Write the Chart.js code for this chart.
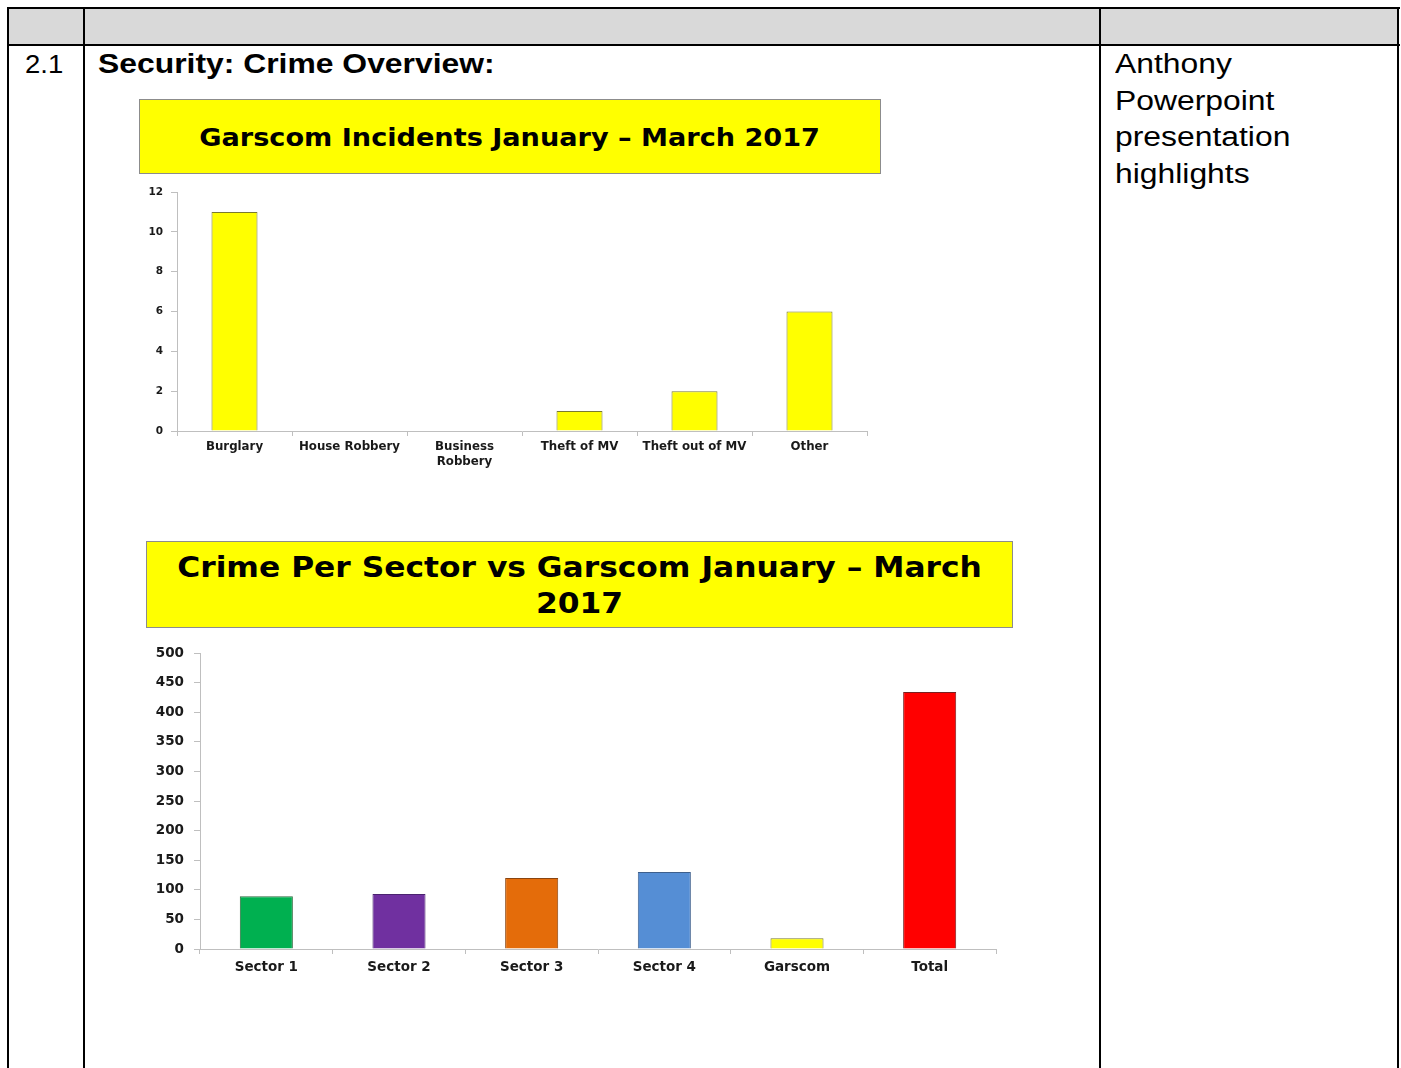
<!DOCTYPE html>
<html>
<head>
<meta charset="utf-8">
<script src="https://cdn.jsdelivr.net/npm/chart.js@4.4.0/dist/chart.umd.min.js"></script>
<style>
  body { margin: 0; background: #fff; width: 1401px; height: 1068px; overflow: hidden; position: relative; font-family: "Liberation Sans", Arial, sans-serif; }
  .line { position: absolute; background: #000; }
  .txt { position: absolute; transform-origin: left top; transform: scaleX(1.18); white-space: nowrap; color: #000; }
  .ttl { position: absolute; background: #ffff00; border: 1px solid #8c8c8c; box-sizing: border-box; display: flex; align-items: center; justify-content: center; text-align: center; font-family: "DejaVu Sans", Verdana, sans-serif; font-weight: bold; color: #000; }
  .ttl span { display: inline-block; white-space: nowrap; }
  canvas { position: absolute; }
</style>
</head>
<body>
<!-- table frame -->
<div style="position:absolute;left:8px;top:8px;width:1390px;height:37px;background:#d9d9d9"></div>
<div class="line" style="left:7px;top:7px;width:1393px;height:2px"></div>
<div class="line" style="left:7px;top:44px;width:1393px;height:2px"></div>
<div class="line" style="left:7px;top:7px;width:2px;height:1061px"></div>
<div class="line" style="left:83px;top:7px;width:2px;height:1061px"></div>
<div class="line" style="left:1099px;top:7px;width:2px;height:1061px"></div>
<div class="line" style="left:1397px;top:7px;width:2px;height:1061px"></div>

<div class="txt" style="left:25px;top:49px;font-size:25px;line-height:30px;transform:scaleX(1.1)">2.1</div>
<div class="txt" style="left:98px;top:48px;font-size:27px;line-height:32px;font-weight:bold">Security: Crime Overview:</div>
<div class="txt" style="left:1115px;top:46px;font-size:27px;line-height:36.7px">Anthony<br>Powerpoint<br>presentation<br>highlights</div>

<div class="ttl" style="left:139px;top:99px;width:742px;height:75px;font-size:24px;padding-top:2px"><span style="transform:scaleX(1.13)">Garscom Incidents January – March 2017</span></div>
<canvas id="c1" width="741" height="300" style="left:139px;top:180px"></canvas>

<div class="ttl" style="left:146px;top:541px;width:867px;height:87px;font-size:29px;line-height:36px"><span style="transform:scaleX(1.08)">Crime Per Sector vs Garscom January – March<br>2017</span></div>
<canvas id="c2" width="865" height="350" style="left:147px;top:640px"></canvas>

<script>
// chart 1: incidents by type
const incidentLabels = ["Burglary", "House Robbery", ["Business", "Robbery"], "Theft of MV", "Theft out of MV", "Other"];
const incidentValues = [11, 0, 0, 1, 2, 6];
const incidentTicks = [0, 2, 4, 6, 8, 10, 12];

// chart 2: crime per sector
const sectorLabels = ["Sector 1", "Sector 2", "Sector 3", "Sector 4", "Garscom", "Total"];
const sectorValues = [89, 93, 120, 130, 18, 434];
const sectorColors = ["#00b050", "#7030a0", "#e46c0a", "#558ed5", "#ffff00", "#ff0000"];
const sectorBorders = ["#2f6b3f", "#4b2370", "#8a4510", "#3d5f8c", "#7a7a30", "#7a2020"];
const sectorTicks = [0, 50, 100, 150, 200, 250, 300, 350, 400, 450, 500];

const axisGray = "#bfbfbf";
const fontFam = "'DejaVu Sans', Verdana, sans-serif";

function makeChart(el, o) {
  return new Chart(el, {
    type: "bar",
    data: {
      labels: o.labels,
      datasets: [{
        data: o.values,
        backgroundColor: o.colors,
        borderColor: o.borders,
        borderWidth: 1,
        borderSkipped: "bottom",
        barPercentage: 0.4,
        categoryPercentage: 1,
      }],
    },
    options: {
      responsive: false,
      animation: false,
      layout: { padding: { left: 0, top: o.padTop, right: o.padRight, bottom: 0 } },
      plugins: { legend: { display: false }, tooltip: { enabled: false } },
      scales: {
        x: {
          grid: { offset: true, drawOnChartArea: false, drawTicks: true, tickLength: 5, color: axisGray },
          border: { color: axisGray, width: 1 },
          ticks: { color: "#1a1a1a", font: { family: fontFam, size: o.xFont, weight: "bold", lineHeight: 1.25 }, padding: o.xPad, maxRotation: 0, autoSkip: false },
          afterFit: (s) => { s.height = o.xHeight; },
        },
        y: {
          min: o.ticks[0],
          max: o.ticks[o.ticks.length - 1],
          afterBuildTicks: (s) => { s.ticks = o.ticks.map((v) => ({ value: v })); },
          grid: { drawOnChartArea: false, drawTicks: true, tickLength: 6, color: axisGray },
          border: { color: axisGray, width: 1 },
          ticks: { color: "#1a1a1a", font: { family: fontFam, size: o.yFont, weight: "bold" }, padding: o.yPad },
          // fixed axis width, and no extra label padding so the plot top follows layout.padding
          afterFit: (s) => { s.width = o.yWidth; s.paddingTop = 0; s.paddingBottom = 0; },
        },
      },
    },
  });
}

makeChart(document.getElementById("c1"), {
  labels: incidentLabels,
  values: incidentValues,
  colors: incidentValues.map(() => "#ffff00"),
  borders: incidentValues.map(() => "#7a7a30"),
  ticks: incidentTicks,
  padTop: 12, padRight: 13,
  xFont: 11.8, xPad: 4, xHeight: 49,
  yFont: 10.5, yPad: 8, yWidth: 38,
});

makeChart(document.getElementById("c2"), {
  labels: sectorLabels,
  values: sectorValues,
  colors: sectorColors,
  borders: sectorBorders,
  ticks: sectorTicks,
  padTop: 13, padRight: 16,
  xFont: 13.5, xPad: 5, xHeight: 41,
  yFont: 13.5, yPad: 10, yWidth: 53,
});
</script>
</body>
</html>
